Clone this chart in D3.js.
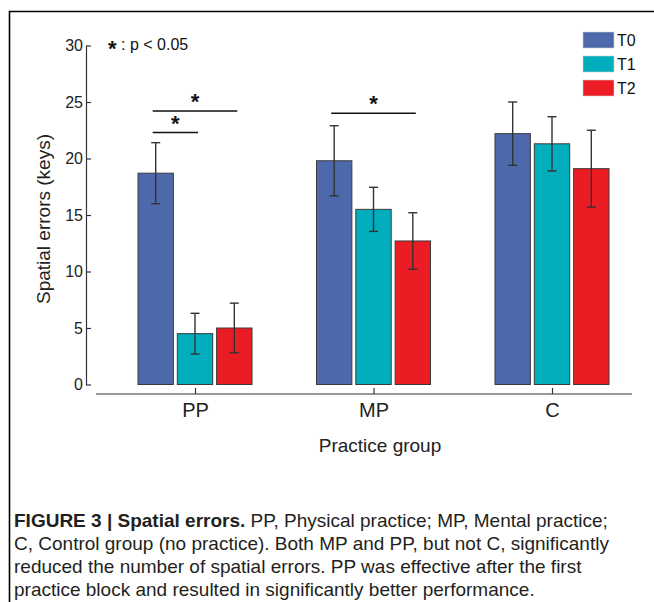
<!DOCTYPE html>
<html>
<head>
<meta charset="utf-8">
<script src="https://cdn.jsdelivr.net/npm/d3@7"></script>
<style>
  body { margin: 0; background: #fff; }
  svg { display: block; font-family: "Liberation Sans", Arial, sans-serif; }
</style>
</head>
<body>
<div id="chart"></div>
<script>
// chart values
const groups = ['PP', 'MP', 'C'];
const series = ['T0', 'T1', 'T2'];
const t0Values = [18.7, 19.8, 22.2];
const t1Values = [4.5, 15.5, 21.3];
const t2Values = [5.0, 12.7, 19.1];
const t0Errors = [2.7, 3.1, 2.8];
const t1Errors = [1.8, 1.95, 2.4];
const t2Errors = [2.2, 2.5, 3.4];
const yTicks = [0, 5, 10, 15, 20, 25, 30];

// significance brackets
const sigGroups = ['PP', 'PP', 'MP'];
const sigFrom = ['T0', 'T0', 'T0'];
const sigTo = ['T2', 'T1', 'T2'];
const sigLevels = [24.2, 22.3, 24.0];

const captionBold = 'FIGURE 3 | Spatial errors.';
const captionLines = [
    ' PP, Physical practice; MP, Mental practice;',
    'C, Control group (no practice). Both MP and PP, but not C, significantly',
    'reduced the number of spatial errors. PP was effective after the first',
    'practice block and resulted in significantly better performance.'
];

const colors = { 'T0': '#4d68ab', 'T1': '#00aebe', 'T2': '#ec1c24' };

const width = 654;
const height = 602;

const svg = d3.select('#chart')
    .append('svg')
    .attr('width', width)
    .attr('height', height);

// outer frame (top and left rule)
svg.append('path')
    .attr('d', `M9.5,${height}V11.5H${width}`)
    .attr('fill', 'none')
    .attr('stroke', '#000')
    .attr('stroke-width', 1.6);

const yScale = d3.scaleLinear()
    .domain([0, 30])
    .range([384.5, 45.5]);

const xScale = d3.scalePoint()
    .domain(groups)
    .range([195, 552]);

const inner = d3.scaleBand()
    .domain(series)
    .range([-57, 57])
    .paddingInner(0.1);

const values = { 'T0': t0Values, 'T1': t1Values, 'T2': t2Values };
const errors = { 'T0': t0Errors, 'T1': t1Errors, 'T2': t2Errors };

const rows = [];
groups.forEach((g, gi) => {
    series.forEach(s => {
        rows.push({ group: g, series: s, value: values[s][gi], err: errors[s][gi] });
    });
});

// y axis
const yAxisG = svg.append('g')
    .attr('transform', 'translate(86,0)')
    .call(d3.axisLeft(yScale).tickValues(yTicks).tickSize(-5).tickSizeOuter(0).tickPadding(3));
yAxisG.selectAll('line, path').attr('stroke', '#333').attr('stroke-width', 1.2);
yAxisG.selectAll('text').attr('font-size', 16).attr('fill', '#222')
    .attr('font-family', '"Liberation Sans", Arial, sans-serif');

// x axis
const xAxisG = svg.append('g')
    .attr('transform', 'translate(0,394)')
    .call(d3.axisBottom(xScale).tickSize(-6).tickSizeOuter(0).tickPadding(9));
xAxisG.select('.domain').attr('d', 'M96,0H632');
xAxisG.selectAll('line, path').attr('stroke', '#333').attr('stroke-width', 1.2);
xAxisG.selectAll('text').attr('font-size', 20).attr('fill', '#222')
    .attr('font-family', '"Liberation Sans", Arial, sans-serif');

// bars
svg.append('g')
    .selectAll('rect')
    .data(rows)
    .enter()
    .append('rect')
        .attr('x', d => xScale(d.group) + inner(d.series))
        .attr('y', d => yScale(d.value))
        .attr('width', inner.bandwidth())
        .attr('height', d => yScale(0) - yScale(d.value))
        .attr('fill', d => colors[d.series])
        .attr('stroke', '#3a3a3a')
        .attr('stroke-width', 1);

// error bars
const errG = svg.append('g')
    .attr('stroke', '#333')
    .attr('stroke-width', 1.4);
const cx = d => xScale(d.group) + inner(d.series) + inner.bandwidth() / 2;
errG.selectAll('.stem')
    .data(rows)
    .enter()
    .append('line')
        .attr('x1', cx).attr('x2', cx)
        .attr('y1', d => yScale(d.value + d.err))
        .attr('y2', d => yScale(d.value - d.err));
errG.selectAll('.capTop')
    .data(rows)
    .enter()
    .append('line')
        .attr('x1', d => cx(d) - 4.5).attr('x2', d => cx(d) + 4.5)
        .attr('y1', d => yScale(d.value + d.err))
        .attr('y2', d => yScale(d.value + d.err));
errG.selectAll('.capBot')
    .data(rows)
    .enter()
    .append('line')
        .attr('x1', d => cx(d) - 4.5).attr('x2', d => cx(d) + 4.5)
        .attr('y1', d => yScale(d.value - d.err))
        .attr('y2', d => yScale(d.value - d.err));

// significance lines and stars
const sig = sigGroups.map((g, i) => ({ group: g, from: sigFrom[i], to: sigTo[i], level: sigLevels[i] }));
const sigG = svg.append('g');
sig.forEach(d => {
    const x1 = xScale(d.group) + inner(d.from) + inner.bandwidth() / 2 - 3;
    const x2 = xScale(d.group) + inner(d.to) + inner.bandwidth() / 2 + 3;
    sigG.append('line')
        .attr('x1', x1).attr('x2', x2)
        .attr('y1', yScale(d.level)).attr('y2', yScale(d.level))
        .attr('stroke', '#111')
        .attr('stroke-width', 1.6);
    sigG.append('text')
        .attr('x', (x1 + x2) / 2)
        .attr('y', yScale(d.level) - 2)
        .attr('text-anchor', 'middle')
        .attr('font-size', 22)
        .attr('font-weight', 'bold')
        .attr('fill', '#111')
        .text('*');
});

// p-value note
const note = svg.append('text')
    .attr('x', 108)
    .attr('y', 50)
    .attr('font-size', 16)
    .attr('fill', '#111');
note.append('tspan').attr('font-size', 22).attr('font-weight', 'bold').attr('dy', 6).text('*');
note.append('tspan').attr('dy', -6).text(' : p < 0.05');

// legend
const legend = svg.append('g')
    .selectAll('g')
    .data(series)
    .enter()
    .append('g')
        .attr('transform', (d, i) => `translate(583,${32 + i * 24})`);
legend.append('rect')
    .attr('width', 31)
    .attr('height', 16)
    .attr('fill', d => colors[d])
    .attr('stroke', '#ccc')
    .attr('stroke-width', 0.6);
legend.append('text')
    .attr('x', 34)
    .attr('y', 14)
    .attr('font-size', 16)
    .attr('fill', '#111')
    .text(d => d);

// axis titles
svg.append('text')
    .attr('transform', 'translate(50,219) rotate(-90)')
    .attr('text-anchor', 'middle')
    .attr('font-size', 19)
    .attr('fill', '#222')
    .text('Spatial errors (keys)');

svg.append('text')
    .attr('x', 380)
    .attr('y', 452)
    .attr('text-anchor', 'middle')
    .attr('font-size', 19)
    .attr('fill', '#222')
    .text('Practice group');

// caption
const cap = svg.append('g').attr('font-size', 19).attr('fill', '#231f20');
const first = cap.append('text').attr('x', 14).attr('y', 527);
first.append('tspan').attr('font-weight', 'bold').text(captionBold);
first.append('tspan').text(captionLines[0]);
captionLines.slice(1).forEach((line, i) => {
    cap.append('text')
        .attr('x', 14)
        .attr('y', 527 + (i + 1) * 23)
        .text(line);
});
</script>
</body>
</html>
